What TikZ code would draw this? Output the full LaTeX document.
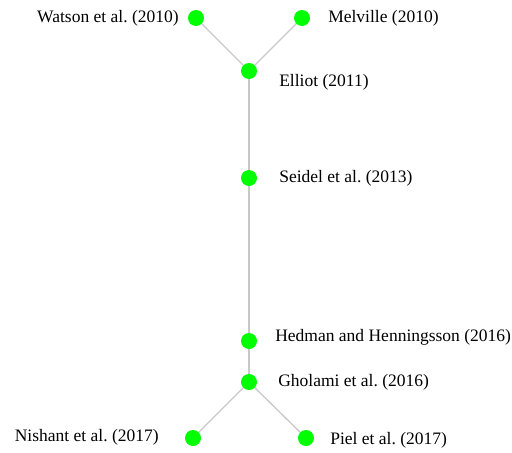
\documentclass[tikz,border=0pt]{standalone}
\usepackage{fontspec}
\setmainfont{Liberation Serif}
\newfontfamily\citefont{Liberation Serif}
\usetikzlibrary{positioning}
\frenchspacing

\begin{document}
\begin{tikzpicture}[x=1pt,y=-1pt,semithick]
    \tikzset{
      paper/.style={
        circle,
        fill={rgb,255:red,0;green,255;blue,0},
        minimum size=16pt,
        inner sep=0pt
      },
      cite/.style={
        inner sep=0pt,
        font=\citefont\fontsize{17.5}{20}\selectfont
      },
      link/.style={
        draw={rgb,255:red,200;green,200;blue,200},
        line width=1.3pt
      }
    }
    \useasboundingbox (0,0) rectangle (512,453);

    % Papers
    \node [paper] (watson)   at (196,18)  {};
    \node [paper] (melville) at (302,18)  {};
    \node [paper] (elliot)   at (249,71)  {};
    \node [paper] (seidel)   at (249,178) {};
    \node [paper] (hedman)   at (249,341) {};
    \node [paper] (gholami)  at (249,382) {};
    \node [paper] (nishant)  at (193,438) {};
    \node [paper] (piel)     at (306,438) {};

    % Labels
    \node [cite, anchor=east] (watsonlbl)   at (179,18)  {Watson et al. (2010)};
    \node [cite, anchor=west] (melvillelbl) at (328,18)  {Melville (2010)};
    \node [cite, anchor=west] (elliotlbl)   at (279,82)  {Elliot (2011)};
    \node [cite, anchor=west] (seidellbl)   at (279,178) {Seidel et al. (2013)};
    \node [cite, anchor=west] (hedmanlbl)   at (275,337) {Hedman and Henningsson (2016)};
    \node [cite, anchor=west] (gholamilbl)  at (278,382) {Gholami et al. (2016)};
    \node [cite, anchor=east] (nishantlbl)  at (159,437) {Nishant et al. (2017)};
    \node [cite, anchor=west] (piellbl)     at (330,440) {Piel et al. (2017)};

    % Citations
    \path
        (watson)   edge [link] (elliot)
        (melville) edge [link] (elliot)
        (elliot)   edge [link] (seidel)
        (seidel)   edge [link] (hedman)
        (hedman)   edge [link] (gholami)
        (gholami)  edge [link] (nishant)
        (gholami)  edge [link] (piel);
\end{tikzpicture}
\end{document}
